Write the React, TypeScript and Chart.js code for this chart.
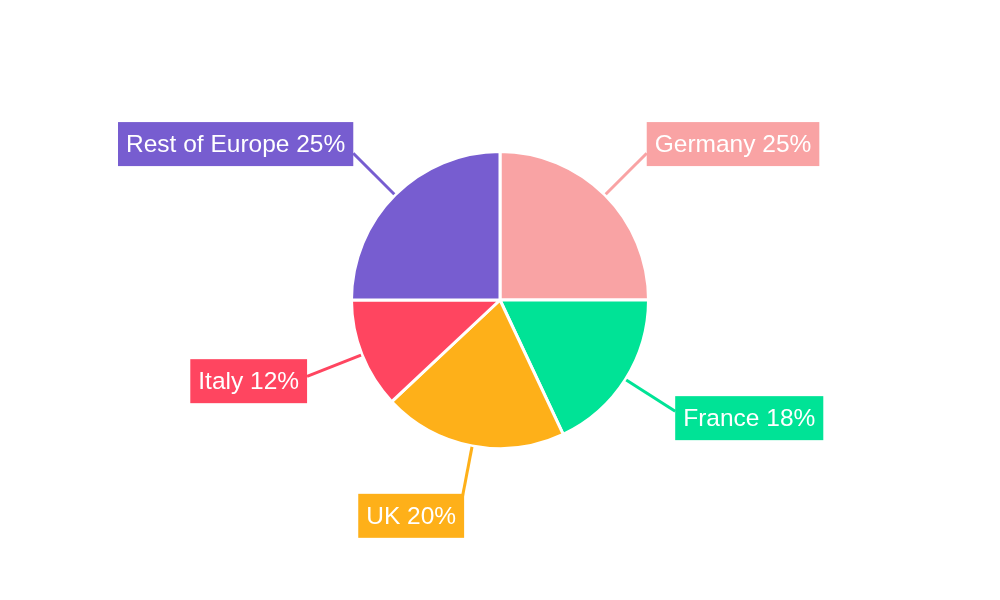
import React, { useEffect, useRef } from 'react';
import { Chart, registerables } from 'chart.js';

Chart.register(...registerables);

const LABELS = ['Germany', 'France', 'UK', 'Italy', 'Rest of Europe'];
const VALUES = [25, 18, 20, 12, 25];
const COLORS = ['#F9A3A4', '#00E396', '#FEB019', '#FF4560', '#775DD0'];

// callout boxes with leader lines, placed along each slice's mid angle
const calloutPlugin = {
  id: 'callouts',
  afterDatasetsDraw(chart: any) {
    const { ctx } = chart;
    const meta = chart.getDatasetMeta(0);
    const total = VALUES.reduce((a, b) => a + b, 0);
    ctx.save();
    ctx.font = '24.5px "Liberation Sans", Arial, sans-serif';
    ctx.textBaseline = 'middle';
    meta.data.forEach((arc: any, i: number) => {
      const mid = (arc.startAngle + arc.endAngle) / 2;
      const cx = Math.cos(mid);
      const cy = Math.sin(mid);
      const r0 = arc.outerRadius + 1;
      const r1 = arc.outerRadius + 59;
      const x0 = arc.x + cx * r0, y0 = arc.y + cy * r0;
      const x1 = arc.x + cx * r1, y1 = arc.y + cy * r1;
      ctx.strokeStyle = COLORS[i];
      ctx.lineWidth = 3;
      ctx.beginPath();
      ctx.moveTo(x0, y0);
      ctx.lineTo(x1, y1);
      ctx.stroke();

      const text = `${LABELS[i]} ${Math.round((VALUES[i] / total) * 100)}%`;
      const w = ctx.measureText(text).width + 16;
      const h = 44;
      let left = cx >= 0 ? x1 : x1 - w;
      let top;
      if (Math.abs(cy) > 0.9) {
        top = cy > 0 ? y1 - 10 : y1 - h + 10;
        left += cx >= 0 ? -3 : 3;
      } else top = y1 + 13 * cy - h / 2;
      ctx.fillStyle = COLORS[i];
      ctx.fillRect(left, top, w, h);
      ctx.fillStyle = '#ffffff';
      ctx.textAlign = 'left';
      ctx.fillText(text, left + 8, top + h / 2 + 1);
    });
    ctx.restore();
  },
};

export default function App() {
  const canvasRef = useRef<HTMLCanvasElement>(null);

  useEffect(() => {
    document.body.style.margin = '0';
    if (!canvasRef.current) return;
    const chart = new Chart(canvasRef.current, {
      type: 'pie',
      data: {
        labels: LABELS,
        datasets: [{ data: VALUES, backgroundColor: COLORS, borderColor: '#ffffff', borderWidth: 3 }],
      },
      options: {
        animation: false,
        responsive: false,
        layout: { padding: { top: 150, bottom: 150 } },
        plugins: { legend: { display: false }, tooltip: { enabled: false } },
      } as any,
      plugins: [calloutPlugin],
    });
    return () => chart.destroy();
  }, []);

  return (
    <div style={{ width: 1000, height: 600, background: '#fff' }}>
      <canvas ref={canvasRef} width={1000} height={600} />
    </div>
  );
}
